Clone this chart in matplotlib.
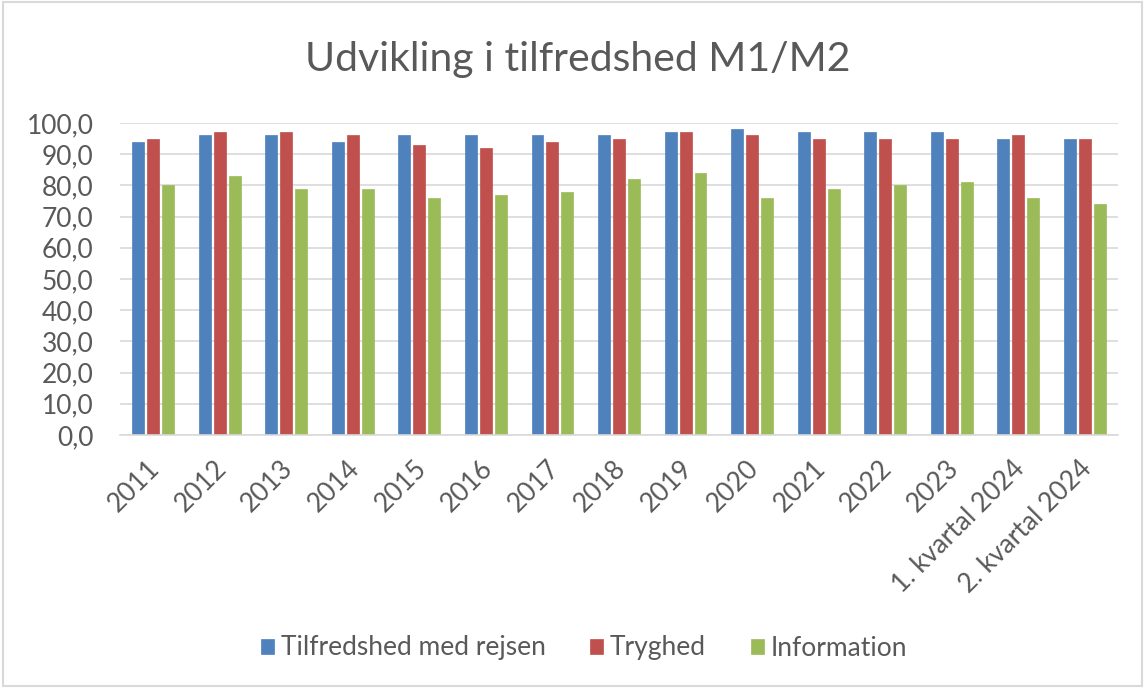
import matplotlib
matplotlib.use("Agg")
import matplotlib.pyplot as plt
import matplotlib.transforms as mtransforms
import numpy as np
from matplotlib.ticker import FuncFormatter

categories = ["2011", "2012", "2013", "2014", "2015", "2016", "2017", "2018",
              "2019", "2020", "2021", "2022", "2023", "1. kvartal 2024", "2. kvartal 2024"]
tilfredshed = [94, 96, 96, 94, 96, 96, 96, 96, 97, 98, 97, 97, 97, 95, 95]
tryghed = [95, 97, 97, 96, 93, 92, 94, 95, 97, 96, 95, 95, 95, 96, 95]
information = [80, 83, 79, 79, 76, 77, 78, 82, 84, 76, 79, 80, 81, 76, 74]
series_names = ["Tilfredshed med rejsen", "Tryghed", "Information"]
colors = ["#4F81BD", "#C0504D", "#9BBB59"]

plt.rcParams['font.family'] = ['Lato', 'DejaVu Sans']
txt = "#595959"

fig = plt.figure(figsize=(11.45, 6.88), dpi=100)
ax = fig.add_axes([120/1145, 1-435/688, (1118-120)/1145, (435-123)/688])

x = np.arange(len(categories))
w = 0.18
off = 0.225
for i, (vals, name, c) in enumerate(zip([tilfredshed, tryghed, information], series_names, colors)):
    ax.bar(x + (i-1)*off, vals, width=w, color=c, label=name, edgecolor=c, linewidth=0.5)

ax.set_xlim(-0.5, len(categories)-0.5)
ax.set_ylim(0, 100)
ax.set_yticks(np.arange(0, 101, 10))
ax.yaxis.set_major_formatter(FuncFormatter(lambda v, p: f"{v:.1f}".replace(".", ",")))
ax.set_xticks(x)
ax.set_xticklabels(categories, rotation=45, ha="right", rotation_mode="anchor")
ax.tick_params(axis='both', length=0, labelsize=19, colors=txt)
ax.tick_params(axis='x', pad=15)
ax.tick_params(axis='y', pad=19)
shift = mtransforms.ScaledTranslation(-6/100, 0, fig.dpi_scale_trans)
for lab in ax.get_xticklabels():
    lab.set_transform(lab.get_transform() + shift)
ax.grid(axis='y', color="#D9D9D9", linewidth=1.2)
ax.set_axisbelow(True)
for s in ["top", "right", "left"]:
    ax.spines[s].set_visible(False)
ax.spines["bottom"].set_color("#D9D9D9")
ax.spines["bottom"].set_linewidth(1.2)

fig.text(578/1145, 1-60/688, "Udvikling i tilfredshed M1/M2", ha="center", va="center",
         fontsize=29.5, color=txt)

leg = fig.legend(loc="center", bbox_to_anchor=(584/1145, 1-648/688), ncol=3, frameon=False,
                 fontsize=19, handlelength=0.5, handleheight=0.5, columnspacing=1.7,
                 handletextpad=0.25, labelcolor=txt)

fig.patches.append(plt.Rectangle((0.003, 0.003), 0.994, 0.994, transform=fig.transFigure,
                                 fill=False, edgecolor="#D9D9D9", linewidth=1.5))
fig.savefig("out.png", dpi=100, facecolor="white")
